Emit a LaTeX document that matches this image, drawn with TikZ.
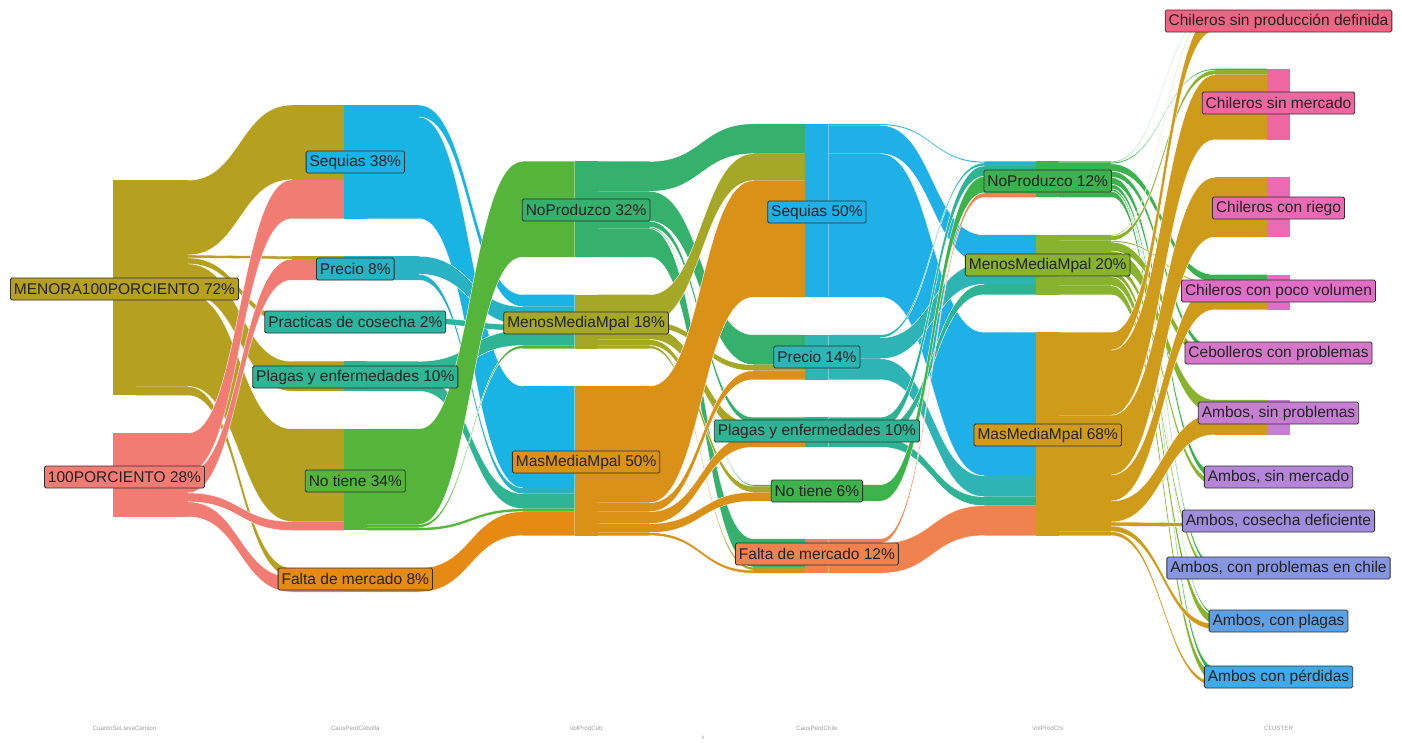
\documentclass[tikz,border=0pt]{standalone}
\usepackage{fontspec}
\setmainfont{Liberation Sans}
% colours
\definecolor{cA1}{HTML}{B5A020}
\definecolor{cA2}{HTML}{F17C73}
\definecolor{cB1}{HTML}{19B4E3}
\definecolor{cB2}{HTML}{28B2C4}
\definecolor{cB3}{HTML}{2BB5A0}
\definecolor{cB4}{HTML}{2FB594}
\definecolor{cB5}{HTML}{55B53A}
\definecolor{cB6}{HTML}{E68A14}
\definecolor{cC1}{HTML}{36B06D}
\definecolor{cC2}{HTML}{A4A826}
\definecolor{cC3}{HTML}{D99217}
\definecolor{cD1}{HTML}{1EB0E6}
\definecolor{cD2}{HTML}{2FB4B6}
\definecolor{cD3}{HTML}{2EB494}
\definecolor{cD4}{HTML}{3CB44B}
\definecolor{cD5}{HTML}{F0824F}
\definecolor{cE1}{HTML}{3DB050}
\definecolor{cE2}{HTML}{89B22D}
\definecolor{cE3}{HTML}{CE9C1A}
\definecolor{cF1}{HTML}{EF6482}
\definecolor{cF2}{HTML}{EE67A0}
\definecolor{cF3}{HTML}{EA6AB4}
\definecolor{cF4}{HTML}{DF6EC4}
\definecolor{cF5}{HTML}{D477C9}
\definecolor{cF6}{HTML}{C67ED2}
\definecolor{cF7}{HTML}{B485D8}
\definecolor{cF8}{HTML}{A08CDC}
\definecolor{cF9}{HTML}{8796E0}
\definecolor{cF10}{HTML}{5FA0E4}
\definecolor{cF11}{HTML}{3FAAE8}
\definecolor{lbltext}{HTML}{222222}
\definecolor{lblline}{HTML}{303030}

\def\kk{2.99}
\newcommand\setL[2]{\expandafter\xdef\csname fL#1\endcsname{#2}}
\newcommand\setR[2]{\expandafter\xdef\csname fR#1\endcsname{#2}}
\newcommand\flowsec[2]{%
  \pgfmathsetmacro\xL{#1+11.5}\pgfmathsetmacro\xR{#2-11.5}%
  \pgfmathsetmacro\xA{\xL+0.25*(\xR-\xL)}\pgfmathsetmacro\xB{\xR-0.25*(\xR-\xL)}%
  \pgfmathsetmacro\xM{0.5*(\xL+\xR)}}
\newcommand\flow[4]{%
  \pgfmathsetmacro\yLt{\csname fL#1\endcsname}%
  \pgfmathsetmacro\yRt{\csname fR#2\endcsname}%
  \pgfmathsetmacro\yLb{\yLt+#3*\kk}%
  \pgfmathsetmacro\yRb{\yRt+#3*\kk}%
  \setL{#1}{\yLb}\setR{#2}{\yRb}%
  \fill[#4] (\xL,\yLt) -- (\xA,\yLt) .. controls (\xM,\yLt) and (\xM,\yRt) .. (\xB,\yRt) -- (\xR,\yRt) -- (\xR,\yRb) -- (\xB,\yRb) .. controls (\xM,\yRb) and (\xM,\yLb) .. (\xA,\yLb) -- (\xL,\yLb) -- cycle;
  \draw[flowedge] (\xA,\yLt) .. controls (\xM,\yLt) and (\xM,\yRt) .. (\xB,\yRt);
  \draw[flowedge] (\xA,\yLb) .. controls (\xM,\yLb) and (\xM,\yRb) .. (\xB,\yRb);
}
\newcommand\stratum[4]{\fill[#4] ({#1-11.5},#2) rectangle ({#1+11.5},#3);}

\tikzset{
  flowedge/.style={draw=white, line width=0.4pt},
  lbl/.style={draw=lblline, line width=0.8pt, rounded corners=1.5pt, text=lbltext,
    font=\fontsize{15.5}{17}\selectfont, inner xsep=3.5pt, inner ysep=0pt,
    minimum height=22pt, anchor=center},
  axlbl/.style={text=black!38, font=\fontsize{6.2}{7}\selectfont, anchor=center},
}

\begin{document}
\begin{tikzpicture}[x=1pt,y=-1pt]
\useasboundingbox (0,0) rectangle (1402,742);
\fill[white] (0,0) rectangle (1402,742);

\def\ca{124.5}\def\cb{355.3}\def\cc{586.1}\def\cd{816.9}\def\ce{1047.7}\def\cf{1278.5}

% ---------- section a -> b
\flowsec{\ca}{\cb}
\setL{a1}{180.2}\setL{a2}{433.1}
\setR{b1}{105}\setR{b2}{256.22}\setR{b3}{317.74}\setR{b4}{361.32}\setR{b5}{428.82}\setR{b6}{568.08}
\flow{a1}{b1}{25}{cA1}
\flow{a1}{b2}{1}{cA1}
\flow{a1}{b3}{2}{cA1}
\flow{a1}{b4}{10}{cA1}
\flow{a1}{b5}{31}{cA1}
\flow{a1}{b6}{3}{cA1}
\flow{a2}{b1}{13}{cA2}
\flow{a2}{b2}{7}{cA2}
\flow{a2}{b5}{3}{cA2}
\flow{a2}{b6}{5}{cA2}

% ---------- section b -> c
\flowsec{\cb}{\cc}
\setL{b1}{105}\setL{b2}{256.22}\setL{b3}{317.74}\setL{b4}{361.32}\setL{b5}{428.82}\setL{b6}{568.08}
\setR{c1}{161.4}\setR{c2}{294.68}\setR{c3}{386.1}
\flow{b1}{c2}{4}{cB1}
\flow{b1}{c3}{34}{cB1}
\flow{b2}{c2}{6}{cB2}
\flow{b2}{c3}{2}{cB2}
\flow{b3}{c2}{2}{cB3}
\flow{b4}{c2}{5}{cB4}
\flow{b4}{c3}{5}{cB4}
\flow{b5}{c1}{32}{cB5}
\flow{b5}{c2}{1}{cB5}
\flow{b5}{c3}{1}{cB5}
\flow{b6}{c3}{8}{cB6}

% ---------- section c -> d
\flowsec{\cc}{\cd}
\setL{c1}{161.4}\setL{c2}{294.68}\setL{c3}{386.1}
\setR{d1}{123.8}\setR{d2}{334.82}\setR{d3}{417.27}\setR{d4}{484.77}\setR{d5}{538.82}
\flow{c1}{d1}{10}{cC1}
\flow{c1}{d2}{10}{cC1}
\flow{c1}{d3}{2}{cC1}
\flow{c1}{d4}{0.5}{cC1}
\flow{c1}{d5}{9.5}{cC1}
\flow{c2}{d1}{9}{cC2}
\flow{c2}{d2}{2}{cC2}
\flow{c2}{d3}{4}{cC2}
\flow{c2}{d4}{2}{cC2}
\flow{c2}{d5}{1}{cC2}
\flow{c3}{d1}{39}{cC3}
\flow{c3}{d2}{3}{cC3}
\flow{c3}{d3}{4}{cC3}
\flow{c3}{d4}{3}{cC3}
\flow{c3}{d5}{1}{cC3}

% ---------- section d -> e
\flowsec{\cd}{\ce}
\setL{d1}{123.8}\setL{d2}{334.82}\setL{d3}{417.27}\setL{d4}{484.77}\setL{d5}{538.82}
\setR{e1}{161.4}\setR{e2}{234.88}\setR{e3}{332.28}
\flow{d1}{e1}{0.5}{cD1}
\flow{d1}{e2}{9.5}{cD1}
\flow{d1}{e3}{48}{cD1}
\flow{d2}{e1}{1}{cD2}
\flow{d2}{e2}{7}{cD2}
\flow{d2}{e3}{7}{cD2}
\flow{d3}{e1}{3.5}{cD3}
\flow{d3}{e2}{3.5}{cD3}
\flow{d3}{e3}{3}{cD3}
\flow{d4}{e1}{5.5}{cD4}
\flow{d5}{e1}{1.5}{cD5}
\flow{d5}{e3}{10}{cD5}

% ---------- section e -> f
\flowsec{\ce}{\cf}
\setL{e1}{161.4}\setL{e2}{234.88}\setL{e3}{332.28}
\setR{f1}{11}\setR{f2}{68.63}\setR{f3}{177.24}\setR{f4}{274.64}\setR{f5}{347.22}\setR{f6}{399.77}
\setR{f7}{472.35}\setR{f8}{522.96}\setR{f9}{564.6}\setR{f10}{612.22}\setR{f11}{666.86}
\flow{e1}{f1}{0.3}{cE1}
\flow{e1}{f2}{0.5}{cE1}
\flow{e1}{f4}{2.5}{cE1}
\flow{e1}{f5}{2}{cE1}
\flow{e1}{f7}{2.35}{cE1}
\flow{e1}{f9}{1.5}{cE1}
\flow{e1}{f10}{0.85}{cE1}
\flow{e1}{f11}{2}{cE1}
\flow{e2}{f1}{0.4}{cE2}
\flow{e2}{f2}{1.5}{cE2}
\flow{e2}{f4}{0.5}{cE2}
\flow{e2}{f5}{3}{cE2}
\flow{e2}{f6}{4.7}{cE2}
\flow{e2}{f7}{2}{cE2}
\flow{e2}{f9}{1.85}{cE2}
\flow{e2}{f10}{3}{cE2}
\flow{e2}{f11}{3.05}{cE2}
\flow{e3}{f1}{6}{cE3}
\flow{e3}{f2}{21.75}{cE3}
\flow{e3}{f3}{20}{cE3}
\flow{e3}{f4}{8.7}{cE3}
\flow{e3}{f6}{7}{cE3}
\flow{e3}{f8}{1.35}{cE3}
\flow{e3}{f10}{1.85}{cE3}
\flow{e3}{f11}{1.35}{cE3}

% ---------- strata
\stratum{\ca}{180.2}{395.48}{cA1}
\stratum{\ca}{433.1}{516.8}{cA2}
\stratum{\cb}{105}{218.62}{cB1}
\stratum{\cb}{256.22}{280.14}{cB2}
\stratum{\cb}{317.74}{323.72}{cB3}
\stratum{\cb}{361.32}{391.22}{cB4}
\stratum{\cb}{428.82}{530.48}{cB5}
\stratum{\cb}{568.08}{592.0}{cB6}
\stratum{\cc}{161.4}{257.08}{cC1}
\stratum{\cc}{294.68}{348.5}{cC2}
\stratum{\cc}{386.1}{535.6}{cC3}
\stratum{\cd}{123.8}{297.22}{cD1}
\stratum{\cd}{334.82}{379.67}{cD2}
\stratum{\cd}{417.27}{447.17}{cD3}
\stratum{\cd}{484.77}{501.22}{cD4}
\stratum{\cd}{538.82}{573.2}{cD5}
\stratum{\ce}{161.4}{197.28}{cE1}
\stratum{\ce}{234.88}{294.68}{cE2}
\stratum{\ce}{332.28}{535.6}{cE3}
\stratum{\cf}{11}{31.03}{cF1}
\stratum{\cf}{68.63}{139.64}{cF2}
\stratum{\cf}{177.24}{237.04}{cF3}
\stratum{\cf}{274.64}{309.62}{cF4}
\stratum{\cf}{347.22}{362.17}{cF5}
\stratum{\cf}{399.77}{434.75}{cF6}
\stratum{\cf}{472.35}{485.36}{cF7}
\stratum{\cf}{522.96}{527.0}{cF8}
\stratum{\cf}{564.6}{574.62}{cF9}
\stratum{\cf}{612.22}{629.26}{cF10}
\stratum{\cf}{666.86}{686.0}{cF11}

% ---------- labels
\node[lbl, fill=cA1] (la1) at (\ca,289) {MENORA100PORCIENTO 72\%};
\node[lbl, fill=cA2] (la2) at (\ca,477) {100PORCIENTO 28\%};
\node[lbl, fill=cB1] (lb1) at (\cb,162) {Sequias 38\%};
\node[lbl, fill=cB2] (lb2) at (\cb,269) {Precio 8\%};
\node[lbl, fill=cB3] (lb3) at (\cb,322) {Practicas de cosecha 2\%};
\node[lbl, fill=cB4] (lb4) at (\cb,377) {Plagas y enfermedades 10\%};
\node[lbl, fill=cB5] (lb5) at (\cb,481) {No tiene 34\%};
\node[lbl, fill=cB6] (lb6) at (\cb,579) {Falta de mercado 8\%};
\node[lbl, fill=cC1] (lc1) at (\cc,210) {NoProduzco 32\%};
\node[lbl, fill=cC2] (lc2) at (\cc,323) {MenosMediaMpal 18\%};
\node[lbl, fill=cC3] (lc3) at (\cc,462) {MasMediaMpal 50\%};
\node[lbl, fill=cD1] (ld1) at (\cd,212) {Sequias 50\%};
\node[lbl, fill=cD2] (ld2) at (\cd,357) {Precio 14\%};
\node[lbl, fill=cD3] (ld3) at (\cd,431) {Plagas y enfermedades 10\%};
\node[lbl, fill=cD4] (ld4) at (\cd,491) {No tiene 6\%};
\node[lbl, fill=cD5] (ld5) at (\cd,554) {Falta de mercado 12\%};
\node[lbl, fill=cE1] (le1) at (\ce,181) {NoProduzco 12\%};
\node[lbl, fill=cE2] (le2) at (\ce,265) {MenosMediaMpal 20\%};
\node[lbl, fill=cE3] (le3) at (\ce,435) {MasMediaMpal 68\%};
\node[lbl, fill=cF1] (lf1) at (\cf,21) {Chileros sin producción definida};
\node[lbl, fill=cF2] (lf2) at (\cf,103) {Chileros sin mercado};
\node[lbl, fill=cF3] (lf3) at (\cf,208) {Chileros con riego};
\node[lbl, fill=cF4] (lf4) at (\cf,291) {Chileros con poco volumen};
\node[lbl, fill=cF5] (lf5) at (\cf,353) {Cebolleros con problemas};
\node[lbl, fill=cF6] (lf6) at (\cf,413) {Ambos, sin problemas};
\node[lbl, fill=cF7] (lf7) at (\cf,477) {Ambos, sin mercado};
\node[lbl, fill=cF8] (lf8) at (\cf,521) {Ambos, cosecha deficiente};
\node[lbl, fill=cF9] (lf9) at (\cf,568) {Ambos, con problemas en chile};
\node[lbl, fill=cF10] (lf10) at (\cf,621) {Ambos, con plagas};
\node[lbl, fill=cF11] (lf11) at (\cf,677) {Ambos con pérdidas};

% ---------- axis labels
\node[axlbl] (xa) at (\ca,728) {CuantoSeLlevaCamion};
\node[axlbl] (xb) at (\cb,728) {CausPerdCebolla};
\node[axlbl] (xc) at (\cc,728) {VolProdCeb};
\node[axlbl] (xd) at (\cd,728) {CausPerdChile};
\node[axlbl] (xe) at (\ce,728) {VolProdChi};
\node[axlbl] (xf) at (\cf,728) {CLUSTER};
\node[axlbl] (xt) at (703,738) {x};
\end{tikzpicture}
\end{document}
